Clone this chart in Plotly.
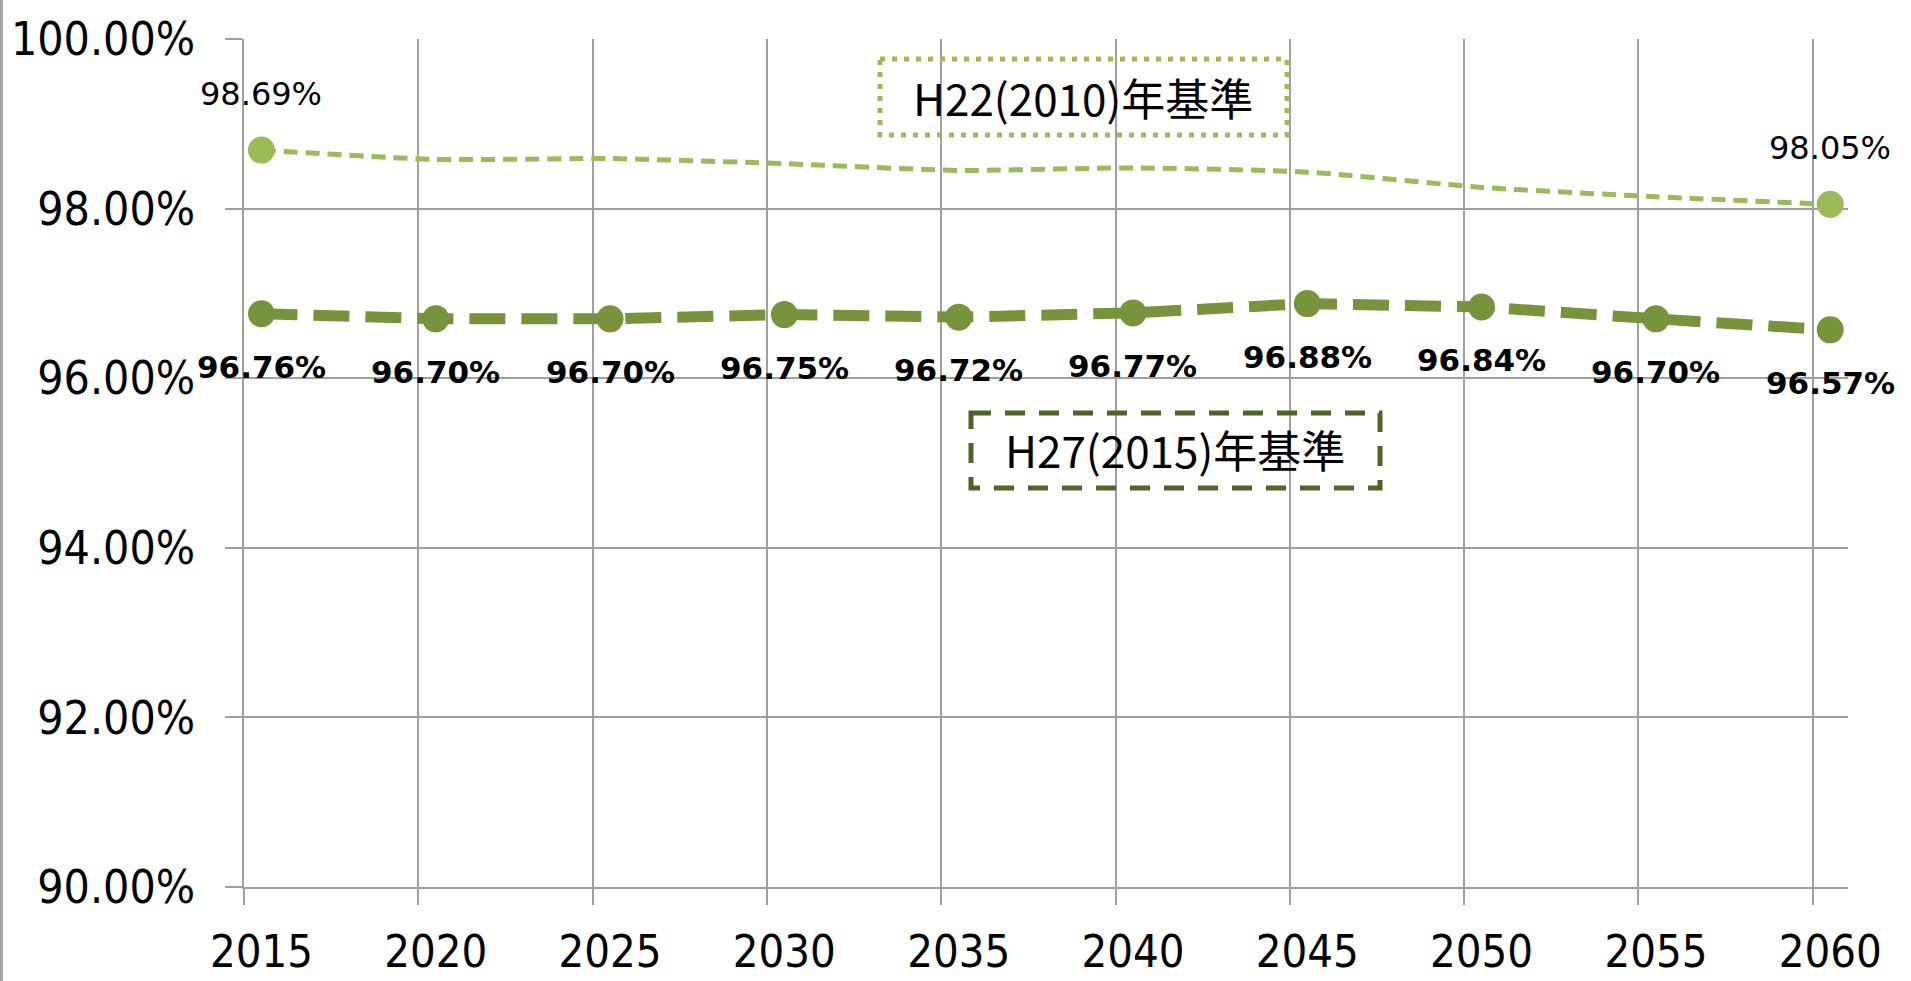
import plotly.graph_objects as go

years = [2015, 2020, 2025, 2030, 2035, 2040, 2045, 2050, 2055, 2060]
h22_values = [98.69, 98.58, 98.59, 98.53, 98.45, 98.48, 98.43, 98.25, 98.14, 98.05]
h27_values = [96.76, 96.70, 96.70, 96.75, 96.72, 96.77, 96.88, 96.84, 96.70, 96.57]
h22_label_idx = [0, 9]
y_ticks = [90, 92, 94, 96, 98, 100]
h22_name = "H22(2010)年基準"
h27_name = "H27(2015)年基準"

LIGHT = "#9BBB59"
DARK = "#77933C"
BOX2 = "#4F6228"
GRID = "#A0A0A0"

W, H = 1911, 981
ML, MR, MT, MB = 244, 63, 39, 94
PW = W - ML - MR
PH = H - MT - MB

grid_x = [y - 0.5 for y in years]

fig = go.Figure()

fig.add_trace(go.Scatter(
    x=years, y=h22_values, mode="lines", name=h22_name,
    line=dict(color=LIGHT, width=5, dash="14px,8px", shape="spline", smoothing=0.6),
    hoverinfo="skip",
))
fig.add_trace(go.Scatter(
    x=[years[i] for i in h22_label_idx], y=[h22_values[i] for i in h22_label_idx],
    mode="markers", name=h22_name,
    marker=dict(color=LIGHT, size=27, opacity=1, line=dict(width=0)),
    hoverinfo="skip",
))
fig.add_trace(go.Scatter(
    x=years, y=h27_values, mode="lines+markers", name=h27_name,
    line=dict(color=DARK, width=11, dash="36px,16px"),
    marker=dict(color=DARK, size=27, opacity=1, line=dict(width=0)),
    hoverinfo="skip",
))

ann = []
for i in h22_label_idx:
    ann.append(dict(x=years[i], y=h22_values[i], text=f"{h22_values[i]:.2f}%", showarrow=False,
                    xanchor="center", yanchor="middle",
                    yshift=56, font=dict(family="DejaVu Sans", size=32, color="#000000")))
for x, v in zip(years, h27_values):
    ann.append(dict(x=x, y=v, text=f"<b>{v:.2f}%</b>", showarrow=False,
                    xanchor="center", yanchor="middle",
                    yshift=-53, font=dict(family="DejaVu Sans", size=31, color="#000000")))

def px_to_paper_x(px):
    return (px - ML) / PW

def px_to_paper_y(py):
    return 1 - (py - MT) / PH

# legend-like boxes
ann.append(dict(xref="paper", yref="paper", x=px_to_paper_x(1083), y=px_to_paper_y(97),
                xanchor="center", yanchor="middle",
                text=h22_name, showarrow=False,
                font=dict(family="Noto Sans CJK JP", size=44, color="#000000")))
ann.append(dict(xref="paper", yref="paper", x=px_to_paper_x(1175), y=px_to_paper_y(449),
                xanchor="center", yanchor="middle",
                text=h27_name, showarrow=False,
                font=dict(family="Noto Sans CJK JP", size=44, color="#000000")))

shapes = [
    dict(type="rect", xref="paper", yref="paper",
         x0=px_to_paper_x(880), x1=px_to_paper_x(1287), y0=px_to_paper_y(59), y1=px_to_paper_y(135),
         line=dict(color=LIGHT, width=5, dash="5px,7px"), fillcolor="rgba(0,0,0,0)", layer="above"),
    dict(type="rect", xref="paper", yref="paper",
         x0=px_to_paper_x(971), x1=px_to_paper_x(1380), y0=px_to_paper_y(413), y1=px_to_paper_y(488),
         line=dict(color=BOX2, width=5, dash="20px,14px"), fillcolor="rgba(0,0,0,0)", layer="above"),
    dict(type="line", xref="paper", yref="paper",
         x0=px_to_paper_x(1.5), x1=px_to_paper_x(1.5), y0=px_to_paper_y(0), y1=px_to_paper_y(H),
         line=dict(color="#A6A6A6", width=3)),
]

fig.update_layout(
    width=W, height=H,
    margin=dict(l=ML, r=MR, t=MT, b=MB, pad=0, autoexpand=False),
    paper_bgcolor="white", plot_bgcolor="white",
    showlegend=False,
    annotations=ann, shapes=shapes,
    xaxis=dict(
        range=[2014.5, 2060.51], tickmode="array", tickvals=years, ticktext=[str(y) for y in years],
        showgrid=False, ticks="", showline=True, linecolor=GRID, linewidth=1.5,
        tickfont=dict(family="DejaVu Sans Condensed, DejaVu Sans", size=45, color="#000000"),
        ticklabelstandoff=24, zeroline=False, automargin=False,
        minor=dict(tickmode="array", tickvals=grid_x, showgrid=True, gridcolor=GRID, gridwidth=1.5,
                   ticks="outside", ticklen=16, tickcolor=GRID, tickwidth=1.5),
    ),
    yaxis=dict(
        range=[90, 100], tickmode="array", tickvals=y_ticks,
        ticktext=[f"{v:.2f}%" for v in y_ticks],
        showgrid=True, gridcolor=GRID, gridwidth=1.5, zeroline=False,
        showline=True, linecolor=GRID, linewidth=1.5,
        ticks="outside", ticklen=17, tickcolor=GRID, tickwidth=1.5,
        tickfont=dict(family="DejaVu Sans Condensed, DejaVu Sans", size=46, color="#000000"),
        ticklabelstandoff=21, automargin=False,
    ),
)

fig.write_html("out.html", config={"displayModeBar": False},
               post_script="document.body.style.margin='0';document.body.style.overflow='hidden';")
